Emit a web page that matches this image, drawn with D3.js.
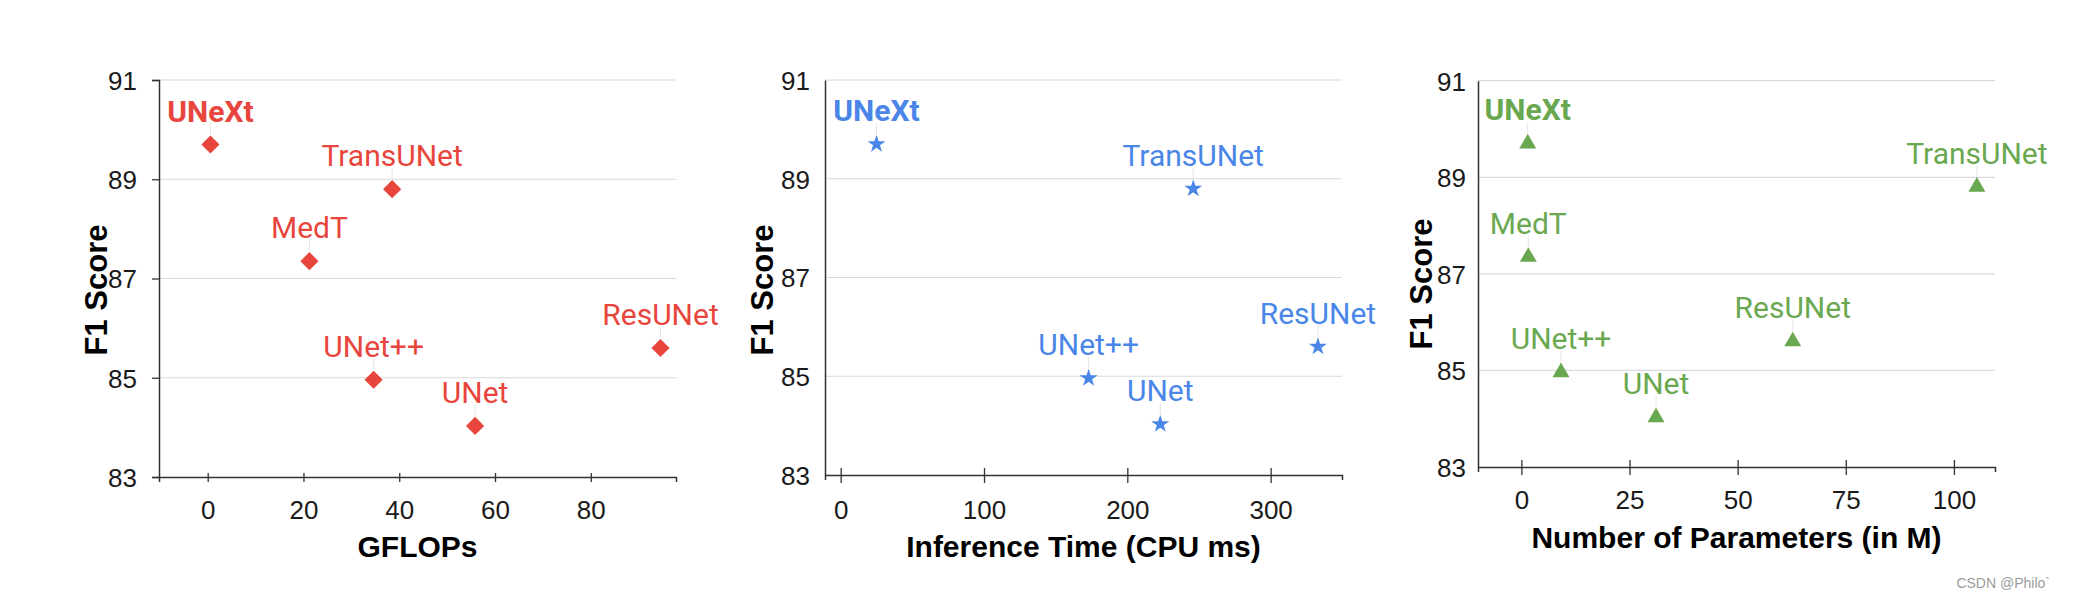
<!DOCTYPE html>
<html>
<head>
<meta charset="utf-8">
<script src="https://cdn.jsdelivr.net/npm/d3@7"></script>
<style>
  html, body { margin: 0; padding: 0; background: #fff; }
  svg { display: block; }
</style>
</head>
<body>
<svg id="chart" width="2088" height="600"></svg>
<script>
// ---------------- data ----------------
const models   = ["UNet", "UNet++", "ResUNet", "MedT", "TransUNet", "UNeXt"];
const f1Score  = [84.03, 84.96, 85.60, 87.35, 88.80, 89.70];
const gflops   = [55.84, 34.65, 94.56, 21.24, 38.52, 0.57];
const cpuMs    = [223, 173, 333, null, 246, 25];          // MedT not shown
const paramsM  = [31.13, 9.16, 62.74, 1.60, 105.32, 1.47];

const f1Ticks     = [83, 85, 87, 89, 91];
const gflopsTicks = [0, 20, 40, 60, 80];
const cpuTicks    = [0, 100, 200, 300];
const paramTicks  = [0, 25, 50, 75, 100];

const gflopsDomain = [-10.17, 97.8];
const cpuDomain    = [-10.95, 349.8];
const paramDomain  = [-10.03, 109.5];
const f1Domain     = [83, 91];

const xTitles = ["GFLOPs", "Inference Time (CPU ms)", "Number of Parameters (in M)"];
const yTitle  = "F1 Score";
const bold    = "UNeXt";

// ---------------- layout ----------------
const panels = [
  { xs: gflops, ticks: gflopsTicks, dom: gflopsDomain, x0: 159, x1: 676, yT: 80, yB: 477,
    color: "#e8453c", sym: "diamond", yTicks: true, ylOff: 22, titleY: 546, tickY: 33, yTitleX: 96, yTitleY: 290 },
  { xs: cpuMs, ticks: cpuTicks, dom: cpuDomain, x0: 825, x1: 1342, yT: 80, yB: 475,
    color: "#4a86e8", sym: "star", yTicks: false, ylOff: 15, titleY: 546, tickY: 35, yTitleX: 762, yTitleY: 290 },
  { xs: paramsM, ticks: paramTicks, dom: paramDomain, x0: 1478, x1: 1995, yT: 80.7, yB: 467,
    color: "#6aa84f", sym: "triangle", yTicks: false, ylOff: 12, titleY: 537, tickY: 33, yTitleX: 1421, yTitleY: 284 }
];

const svg = d3.select("#chart");
const tickFont = "'Liberation Sans', Arial, sans-serif";
const labelFont = "Roboto, 'Liberation Sans', sans-serif";

panels.forEach((p, pi) => {
  const x = d3.scaleLinear().domain(p.dom).range([p.x0, p.x1]);
  const y = d3.scaleLinear().domain(f1Domain).range([p.yB, p.yT]);
  const g = svg.append("g");

  // gridlines
  g.selectAll("line.grid").data(f1Ticks.filter(t => t !== 83)).enter()
    .append("line").attr("class", "grid")
    .attr("x1", p.x0).attr("x2", p.x1)
    .attr("y1", d => y(d)).attr("y2", d => y(d))
    .attr("stroke", "#d9d9d9").attr("stroke-width", 1.2);

  // y axis
  const yAxis = d3.axisLeft(y).tickValues(f1Ticks).tickSizeOuter(0)
    .tickSize(p.yTicks ? 7 : 0);
  const ya = g.append("g").attr("transform", `translate(${p.x0},0)`).call(yAxis);
  ya.attr("font-size", null);
  ya.select(".domain").attr("stroke", "#333").attr("stroke-width", 1.5);
  ya.selectAll(".tick line").attr("stroke", "#333").attr("stroke-width", 1.3);
  ya.selectAll(".tick text")
    .attr("x", -p.ylOff).attr("dy", "0.36em")
    .attr("font-family", tickFont).attr("font-size", 26).attr("fill", "#1a1a1a");

  // x axis
  const xAxis = d3.axisBottom(x).tickValues(p.ticks).tickSizeOuter(0).tickSize(5);
  const xa = g.append("g").attr("transform", `translate(0,${p.yB})`).call(xAxis);
  xa.attr("font-size", null);
  xa.select(".domain").attr("stroke", "#333").attr("stroke-width", 1.5);
  xa.selectAll(".tick line").attr("y1", pi === 0 ? -4 : -7).attr("y2", pi === 0 ? 5 : 8)
    .attr("stroke", "#333").attr("stroke-width", 1.3);
  xa.selectAll(".tick text")
    .attr("y", p.tickY).attr("dy", "0.36em")
    .attr("font-family", tickFont).attr("font-size", 26).attr("fill", "#1a1a1a");

  // axis titles
  g.append("text")
    .attr("x", (p.x0 + p.x1) / 2).attr("y", p.titleY).attr("dy", "0.35em")
    .attr("text-anchor", "middle")
    .attr("font-family", tickFont).attr("font-weight", "bold").attr("font-size", 30)
    .attr("fill", "#000").text(xTitles[pi]);
  g.append("text")
    .attr("transform", `translate(${p.yTitleX},${p.yTitleY}) rotate(-90)`)
    .attr("dy", "0.35em").attr("text-anchor", "middle")
    .attr("font-family", tickFont).attr("font-weight", "bold").attr("font-size", 31)
    .attr("fill", "#000").text(yTitle);

  // points
  const pts = models.map((m, i) => ({ m, xv: p.xs[i], yv: f1Score[i] }))
                    .filter(d => d.xv !== null);

  let symGen;
  if (p.sym === "diamond") symGen = d3.symbol().type(d3.symbolSquare).size(165);
  else if (p.sym === "star") symGen = d3.symbol().type(d3.symbolStar).size(100);
  else symGen = d3.symbol().type(d3.symbolTriangle).size(125);

  // leader lines
  g.selectAll("line.lead").data(pts).enter().append("line")
    .attr("x1", d => x(d.xv)).attr("x2", d => x(d.xv))
    .attr("y1", d => y(d.yv) - 21).attr("y2", d => y(d.yv) - 10)
    .attr("stroke", "#e6e6e6").attr("stroke-width", 1);

  g.selectAll("path.pt").data(pts).enter().append("path")
    .attr("d", symGen)
    .attr("transform", d => `translate(${x(d.xv)},${y(d.yv)})` + (p.sym === "diamond" ? " rotate(45)" : ""))
    .attr("fill", p.color);

  g.selectAll("text.lbl").data(pts).enter().append("text")
    .attr("x", d => x(d.xv)).attr("y", d => y(d.yv) - 23)
    .attr("text-anchor", "middle")
    .attr("font-family", labelFont).attr("font-size", 30)
    .attr("font-weight", d => d.m === bold ? "bold" : "normal")
    .attr("fill", p.color).text(d => d.m);
});

// watermark
svg.append("text").attr("x", 2050).attr("y", 588).attr("text-anchor", "end")
  .attr("font-family", tickFont).attr("font-size", 14).attr("fill", "#9a9a9a")
  .text("CSDN @Philo`");
</script>
</body>
</html>
